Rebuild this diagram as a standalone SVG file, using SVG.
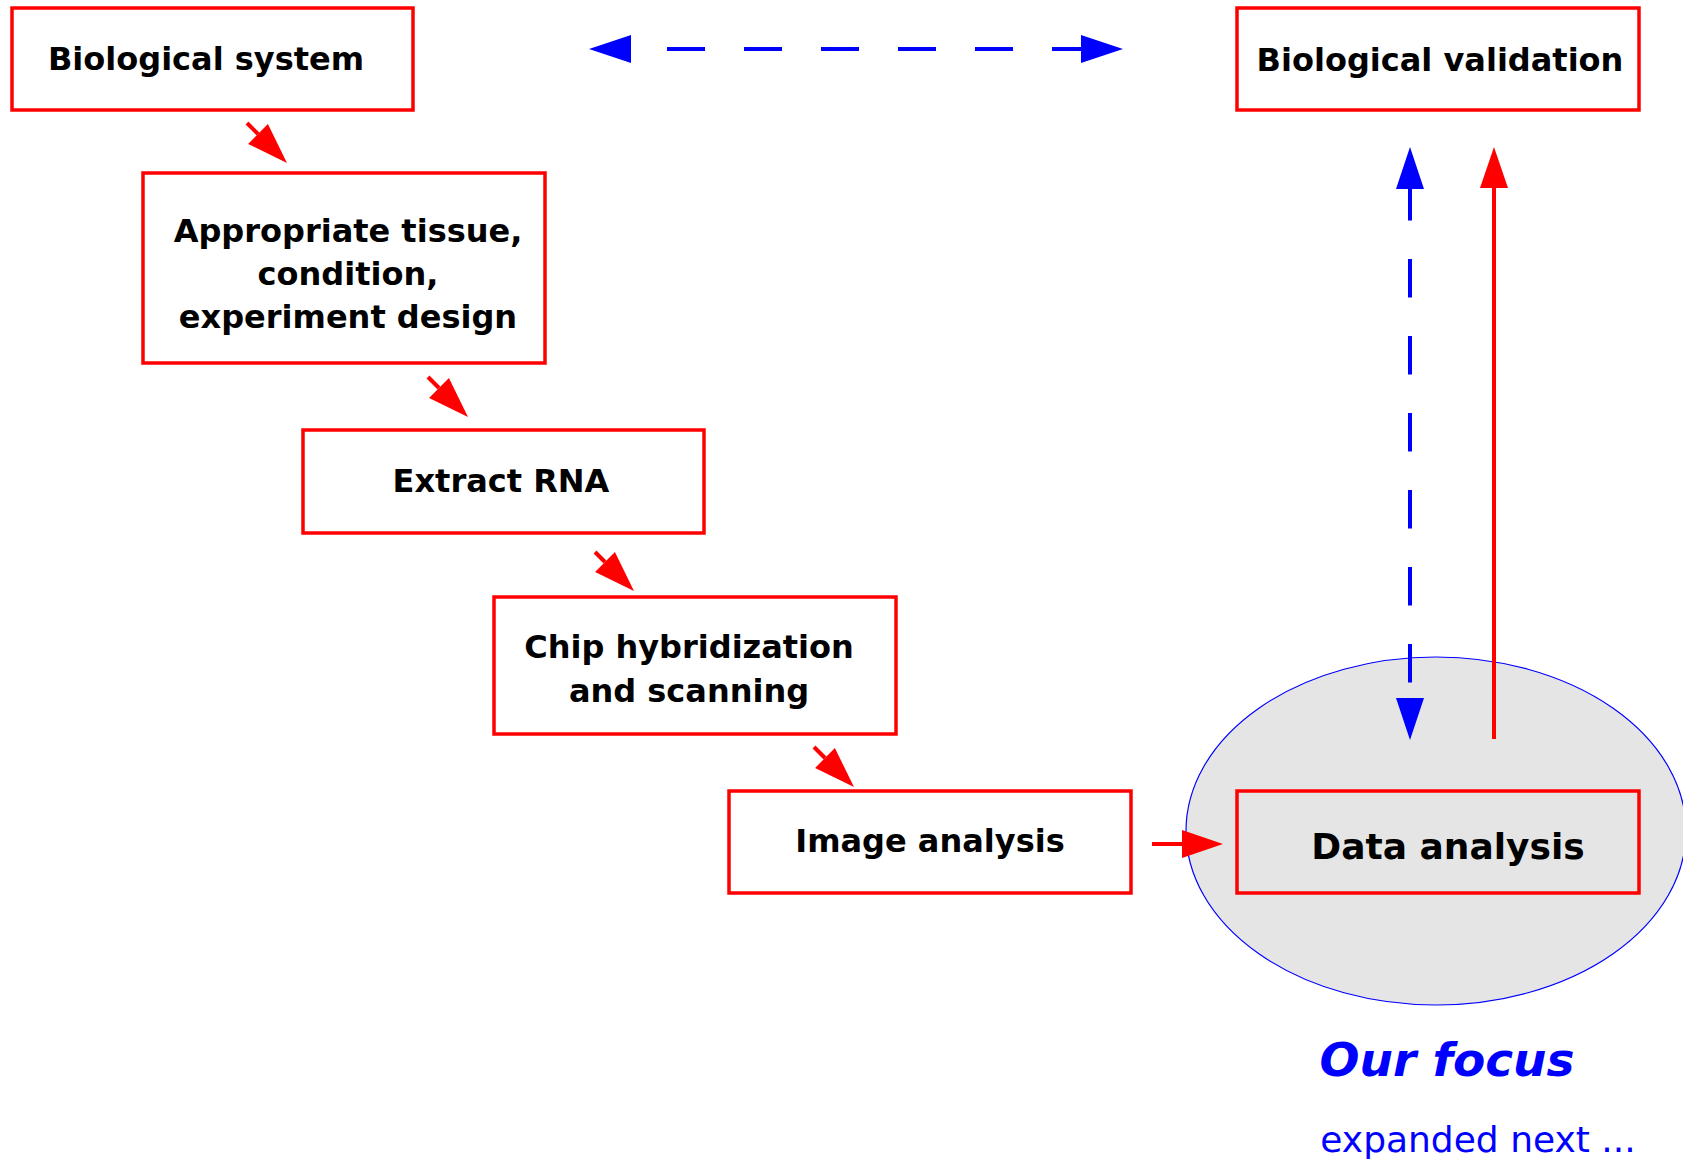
<svg xmlns="http://www.w3.org/2000/svg" width="1683" height="1161" viewBox="0 0 1683 1161">
  <style>
    .box { fill: none; stroke: #ff0000; stroke-width: 3.5; }
    .label { font-family: "DejaVu Sans", "Liberation Sans", sans-serif; font-weight: bold; font-size: 32px; fill: #000000; text-anchor: middle; }
    .red { stroke: #ff0000; stroke-width: 4; fill: none; }
    .blue { stroke: #0000ff; stroke-width: 4; fill: none; }
    .note { font-family: "DejaVu Sans", "Liberation Sans", sans-serif; fill: #0000ff; text-anchor: middle; }
  </style>
  <defs>
    <marker id="headRed" markerUnits="userSpaceOnUse" viewBox="0 -15 44 30" refX="0" refY="0" markerWidth="44" markerHeight="30" orient="auto">
      <path d="M0,-14 L41,0 L0,14 z" fill="#ff0000"/>
    </marker>
    <marker id="headBlue" markerUnits="userSpaceOnUse" viewBox="0 -15 44 30" refX="0" refY="0" markerWidth="44" markerHeight="30" orient="auto-start-reverse">
      <path d="M0,-14 L42,0 L0,14 z" fill="#0000ff"/>
    </marker>
  </defs>

  <!-- focus area behind the data analysis step -->
  <g id="focus-area">
    <ellipse cx="1436" cy="831" rx="250" ry="174" fill="#e5e5e5" stroke="#0000ff" stroke-width="1.2"/>
  </g>

  <g id="biological-system">
    <rect class="box" x="12" y="8" width="401" height="102"/>
    <text class="label" x="206" y="70">Biological system</text>
  </g>

  <g id="tissue-design">
    <rect class="box" x="143" y="173" width="402" height="190"/>
    <text class="label" x="348" y="242">Appropriate tissue,</text>
    <text class="label" x="348" y="285">condition,</text>
    <text class="label" x="348" y="328">experiment design</text>
  </g>

  <g id="extract-rna">
    <rect class="box" x="303" y="430" width="401" height="103"/>
    <text class="label" x="501" y="492">Extract RNA</text>
  </g>

  <g id="chip-hybridization">
    <rect class="box" x="494" y="597" width="402" height="137"/>
    <text class="label" x="689" y="658">Chip hybridization</text>
    <text class="label" x="689" y="702">and scanning</text>
  </g>

  <g id="image-analysis">
    <rect class="box" x="729" y="791" width="402" height="102"/>
    <text class="label" x="930" y="852">Image analysis</text>
  </g>

  <g id="biological-validation">
    <rect class="box" x="1237" y="8" width="402" height="102"/>
    <text class="label" x="1440" y="71">Biological validation</text>
  </g>

  <g id="data-analysis">
    <rect class="box" x="1237" y="791" width="402" height="102"/>
    <text class="label" x="1448" y="859" style="font-size:36px">Data analysis</text>
  </g>

  <g id="connectors">
    <!-- pipeline steps -->
    <line class="red" x1="247" y1="123" x2="258" y2="134" marker-end="url(#headRed)"/>
    <line class="red" x1="428" y1="377" x2="439" y2="388" marker-end="url(#headRed)"/>
    <line class="red" x1="595" y1="552" x2="605" y2="562" marker-end="url(#headRed)"/>
    <line class="red" x1="814" y1="747" x2="825" y2="758" marker-end="url(#headRed)"/>
    <line class="red" x1="1152" y1="844" x2="1182" y2="844" marker-end="url(#headRed)"/>
    <!-- data analysis feeds validation -->
    <line class="red" x1="1494" y1="739" x2="1494" y2="188" marker-end="url(#headRed)"/>
    <!-- two-way links -->
    <line class="blue" x1="631" y1="49" x2="1081" y2="49" stroke-dasharray="38 39" stroke-dashoffset="41" marker-start="url(#headBlue)" marker-end="url(#headBlue)"/>
    <line class="blue" x1="1410" y1="189" x2="1410" y2="698" stroke-dasharray="38.5 38.5" stroke-dashoffset="7" marker-start="url(#headBlue)" marker-end="url(#headBlue)"/>
  </g>

  <g id="focus-caption">
    <text class="note" x="1447" y="1076" style="font-size:47px;font-weight:bold;font-style:italic">Our focus</text>
    <text class="note" x="1478" y="1152" style="font-size:36px">expanded next ...</text>
  </g>
</svg>
